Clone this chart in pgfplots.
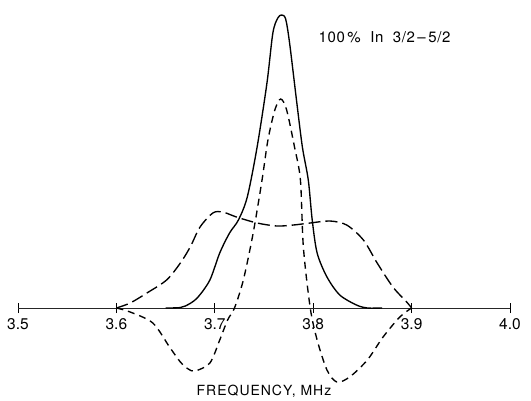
\documentclass[border=0pt]{standalone}
\usepackage{pgfplots}
\pgfplotsset{compat=1.18}
\usepackage{fontspec}
\setmainfont{TeX Gyre Heros}
\newfontfamily\lab[LetterSpace=7]{TeX Gyre Heros}
\newfontfamily\tlab[LetterSpace=4]{TeX Gyre Heros}
\begin{document}
\begin{tikzpicture}
\begin{axis}[
  scale only axis, width=492pt, height=400pt,
  xmin=3.5, xmax=4.0, ymin=-92, ymax=308,
  axis x line=middle, axis y line=none,
  axis line style={-, line width=0.8pt, black!85},
  xtick={3.5,3.6,3.7,3.8,3.9,4.0},
  xticklabels={3.5,3.6,3.7,3.8,3.9,4.0},
  major tick length=10pt,
  tick style={black, line width=0.8pt},
  xticklabel style={font=\fontsize{15.5}{15.5}\selectfont, yshift=-2pt},
  clip=false,
]
\coordinate (bl) at (rel axis cs:0,0);
\coordinate (tr) at (rel axis cs:1,1);
% solid
\addplot[black, line width=1.35pt, smooth, tension=0.5] coordinates {
(3.650,0) (3.665,0.5) (3.674,4) (3.683,11) (3.695,28) (3.705,55) (3.715,75)
(3.724,88) (3.733,111) (3.743,161) (3.753,225) (3.759,275) (3.764,290)
(3.768,293) (3.772,289) (3.776,265) (3.783,208) (3.789,161) (3.795,128)
(3.799,88) (3.804,55) (3.814,31) (3.827,13) (3.844,3) (3.855,0) (3.870,0)
};
% long dashed broad
\addplot[black, line width=1.35pt, smooth, tension=0.5, dash pattern=on 12pt off 5pt] coordinates {
(3.600,0) (3.614,5) (3.631,15) (3.651,28) (3.665,45) (3.675,61) (3.685,81)
(3.698,95) (3.708,96) (3.722,91) (3.743,85) (3.763,82) (3.780,83) (3.797,85)
(3.817,87) (3.834,83) (3.851,68) (3.865,45) (3.881,21) (3.895,6) (3.900,0)
};
% short dashed derivative-like
\addplot[black, line width=1.35pt, smooth, tension=0.5, dash pattern=on 7pt off 5pt] coordinates {
(3.600,0) (3.614,-4) (3.637,-15) (3.654,-39) (3.665,-54) (3.673,-61) (3.680,-63)
(3.695,-55) (3.705,-32) (3.713,-12) (3.720,0) (3.729,28) (3.739,75) (3.748,128)
(3.754,168) (3.761,198) (3.767,209) (3.773,198) (3.781,161) (3.787,128)
(3.790,61) (3.797,0) (3.804,-32) (3.814,-62) (3.824,-74) (3.837,-69)
(3.855,-52) (3.871,-29) (3.888,-9) (3.900,0)
};
\node[anchor=west, font=\fontsize{15}{15}\tlab] at (axis cs:3.802,271) {100\,\%\ \ In\ \ 3/2\,–\,5/2};
\node[font=\fontsize{14}{14}\lab] at (axis cs:3.75,-83) {FREQUENCY,\ MHz};
\end{axis}
\pgfresetboundingbox
\path ([xshift=-18pt]bl) rectangle ([xshift=21pt]tr);
\end{tikzpicture}
\end{document}
